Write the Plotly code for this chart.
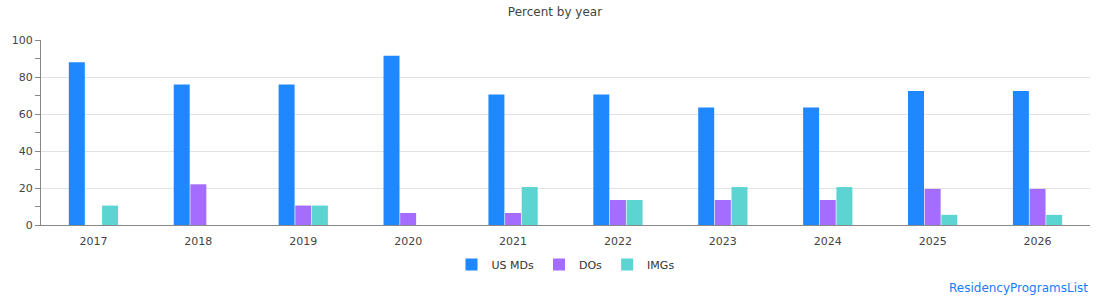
import plotly.graph_objects as go

years = ["2017", "2018", "2019", "2020", "2021", "2022", "2023", "2024", "2025", "2026"]
us_mds = [88, 76, 76, 91.5, 70.5, 70.5, 63.5, 63.5, 72.5, 72.5]
dos = [0, 22, 10.5, 6.5, 6.5, 13.5, 13.5, 13.5, 19.5, 19.5]
imgs = [10.5, 0, 10.5, 0, 20.5, 13.5, 20.5, 20.5, 5.5, 5.5]

series = [
    ("US MDs", us_mds, "#1f88ff"),
    ("DOs", dos, "#a46cff"),
    ("IMGs", imgs, "#5cd4d2"),
]

fig = go.Figure()
for name, vals, color in series:
    fig.add_trace(go.Bar(
        x=years, y=vals, name=name,
        marker=dict(color=color, line=dict(width=0)),
        hoverinfo="x+y+name",
    ))

font = "DejaVu Sans, Verdana, sans-serif"
fig.update_layout(
    width=1110, height=300,
    margin=dict(l=41, r=20, t=40, b=75),
    paper_bgcolor="white", plot_bgcolor="white",
    barmode="group", bargap=0.524, bargroupgap=0.04,
    title=dict(text="Percent by year", x=0.5, xanchor="center", y=0.975, yanchor="top",
               font=dict(family=font, size=12, color="#444")),
    font=dict(family=font, size=11, color="#444"),
    showlegend=True,
    legend=dict(orientation="h", x=0.5, xanchor="center", y=-0.135, yanchor="top",
                font=dict(family=font, size=11, color="#333"), itemwidth=30),
    xaxis=dict(type="category", showline=True, linecolor="#888", linewidth=1,
               ticks="", ticklabelstandoff=6, showgrid=False, tickfont=dict(size=11, color="#444")),
    yaxis=dict(range=[0, 100], dtick=20, showline=True, linecolor="#888", linewidth=1,
               ticks="outside", ticklen=5, tickcolor="#888",
               showgrid=True, gridcolor="#e2e2e2", gridwidth=1, zeroline=False,
               minor=dict(dtick=10, ticks="outside", ticklen=5, tickcolor="#888", showgrid=False),
               tickfont=dict(size=11, color="#444")),
    annotations=[dict(text="ResidencyProgramsList", xref="paper", yref="paper",
                      x=1.0, xanchor="right", y=-0.29, yanchor="top", showarrow=False,
                      font=dict(family=font, size=12, color="#1a7cff"))],
)

fig.write_html("out.html")
